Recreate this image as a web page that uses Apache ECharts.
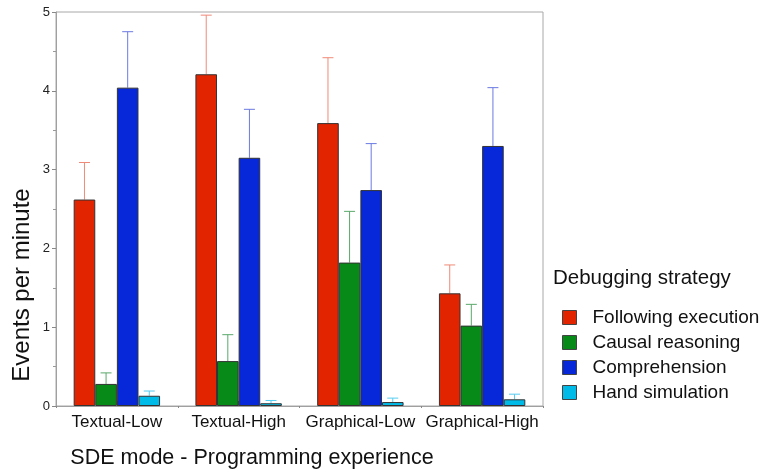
<!DOCTYPE html>
<html>
<head>
<meta charset="utf-8">
<script src="https://cdn.jsdelivr.net/npm/echarts@6/dist/echarts.min.js"></script>
<style>
  html, body { margin: 0; padding: 0; background: #fff; }
  #chart { width: 765px; height: 474px; }
</style>
</head>
<body>
<div id="chart"></div>
<script>
// Groups on the x axis
const categories = ['Textual-Low', 'Textual-High', 'Graphical-Low', 'Graphical-High'];

// Mean events per minute for each debugging strategy
const followingExecution = [2.62, 4.21, 3.59, 1.43];
const causalReasoning   = [0.28, 0.57, 1.82, 1.02];
const comprehension     = [4.04, 3.15, 2.74, 3.30];
const handSimulation    = [0.13, 0.035, 0.05, 0.085];

// Upper end of each error bar
const followingExecutionUpper = [3.09, 4.96, 4.42, 1.79];
const causalReasoningUpper    = [0.42, 0.905, 2.47, 1.29];
const comprehensionUpper      = [4.75, 3.765, 3.33, 4.04];
const handSimulationUpper     = [0.19, 0.07, 0.10, 0.15];

const yTicks = [0, 1, 2, 3, 4, 5];

const seriesNames = ['Following execution', 'Causal reasoning', 'Comprehension', 'Hand simulation'];
const barColors = ['#e32400', '#078a18', '#0628d8', '#00bbe8'];
const errColors = ['#f08a78', '#5aa86a', '#6a7ae2', '#55ccf0'];
const means = [followingExecution, causalReasoning, comprehension, handSimulation];
const uppers = [followingExecutionUpper, causalReasoningUpper, comprehensionUpper, handSimulationUpper];

const FONT = '"Liberation Sans", Arial, sans-serif';
const BAR_W = 21.6;

const chart = echarts.init(document.getElementById('chart'), null, { renderer: 'canvas' });

const barSeries = seriesNames.map((name, i) => ({
  name,
  type: 'bar',
  data: means[i],
  barWidth: BAR_W,
  barGap: '0%',
  itemStyle: { color: barColors[i], borderColor: '#333', borderWidth: 1 },
  z: 3
}));

const errSeries = seriesNames.map((name, i) => ({
  type: 'custom',
  name: name + ' error',
  data: uppers[i].map((u, k) => [k, means[i][k], u]),
  z: 2,
  silent: true,
  renderItem(params, api) {
    const k = api.value(0);
    const base = api.coord([k, api.value(1)]);
    const top = api.coord([k, api.value(2)]);
    const x = base[0] + (i - 1.5) * BAR_W;
    const style = { stroke: errColors[i], lineWidth: 1 };
    return {
      type: 'group',
      children: [
        { type: 'line', shape: { x1: x, y1: base[1], x2: x, y2: top[1] }, style },
        { type: 'line', shape: { x1: x - 5.5, y1: top[1], x2: x + 5.5, y2: top[1] }, style }
      ]
    };
  },
  encode: { x: 0, y: [1, 2] }
}));

chart.setOption({
  animation: false,
  backgroundColor: '#fff',
  grid: {
    left: 56, right: 222, top: 12, bottom: 68,
    show: true, borderColor: '#a8a8a8', borderWidth: 1
  },
  legend: {
    orient: 'vertical',
    left: 562, top: 308,
    padding: 0,
    itemWidth: 14, itemHeight: 14, itemGap: 6,
    icon: 'rect',
    data: seriesNames,
    itemStyle: { borderColor: '#444', borderWidth: 1 },
    textStyle: { fontFamily: FONT, fontSize: 19, color: '#111', lineHeight: 19, padding: [0, 0, 0, 11] },
    selectedMode: false
  },
  xAxis: [{
    type: 'category',
    data: categories,
    axisLine: { lineStyle: { color: '#a0a0a0' } },
    axisTick: { show: true, inside: true, alignWithLabel: true, length: 5, lineStyle: { color: '#666' } },
    axisLabel: { interval: 0, fontFamily: FONT, fontSize: 17, color: '#111', margin: 8 }
  }, {
    type: 'category',
    data: categories,
    position: 'bottom',
    axisLine: { show: false },
    axisTick: { show: true, length: 2, lineStyle: { color: '#888' } },
    axisLabel: { show: false }
  }],
  yAxis: {
    type: 'value',
    min: yTicks[0], max: yTicks[yTicks.length - 1], interval: 1,
    axisLine: { show: true, lineStyle: { color: '#a0a0a0' } },
    axisTick: { show: true, length: 4, lineStyle: { color: '#888' } },
    minorTick: { show: true, splitNumber: 2, length: 3, lineStyle: { color: '#999' } },
    splitLine: { show: false },
    axisLabel: { fontFamily: FONT, fontSize: 13, color: '#222', margin: 6 }
  },
  graphic: [
    {
      type: 'text', x: 22, y: 285, rotation: Math.PI / 2,
      style: { text: 'Events per minute', font: '24px ' + FONT, fill: '#111', align: 'center', verticalAlign: 'middle' }
    },
    {
      type: 'text', x: 252, y: 458,
      style: { text: 'SDE mode - Programming experience', font: '21.5px ' + FONT, fill: '#111', align: 'center', verticalAlign: 'middle' }
    },
    {
      type: 'text', x: 553, y: 278,
      style: { text: 'Debugging strategy', font: '20.5px ' + FONT, fill: '#111', align: 'left', verticalAlign: 'middle' }
    }
  ],
  series: [...errSeries, ...barSeries]
});
</script>
</body>
</html>
